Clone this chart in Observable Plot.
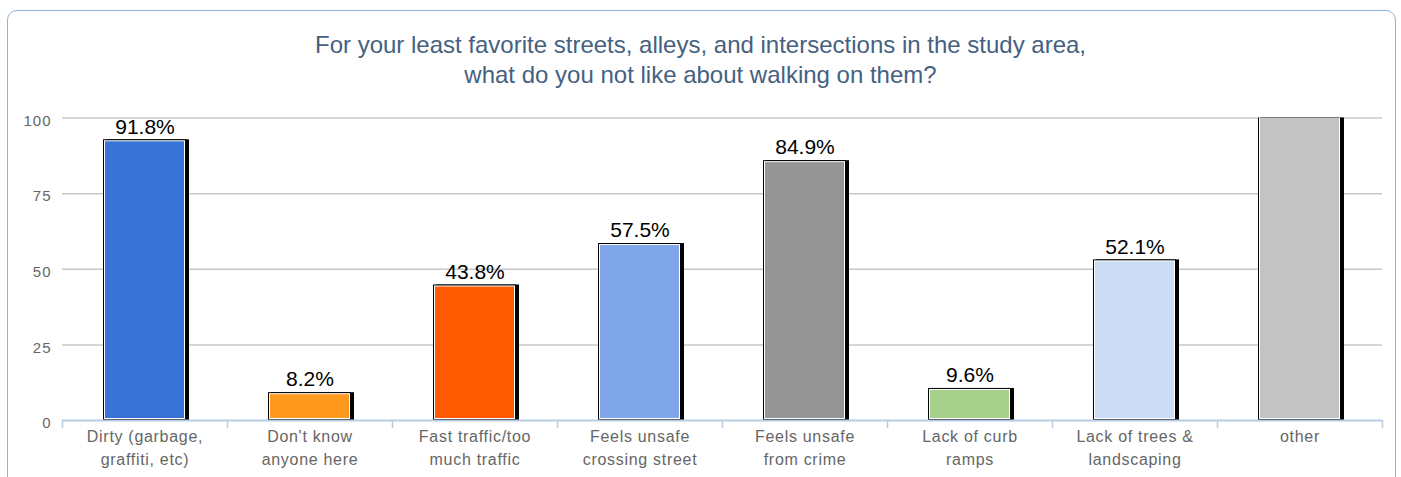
<!DOCTYPE html>
<html>
<head>
<meta charset="utf-8">
<script src="https://cdn.jsdelivr.net/npm/d3@7"></script>
<script src="https://cdn.jsdelivr.net/npm/@observablehq/plot@0.6"></script>
<style>
  body { margin: 0; background: #fff; }
  #wrap { position: relative; width: 1401px; height: 477px; overflow: hidden; font-family: "Liberation Sans", Arial, sans-serif; }
  #card { position: absolute; left: 7px; top: 10px; width: 1389px; height: 520px; border: 1.5px solid #93b2d9; border-radius: 10px; box-sizing: border-box; }
  #title { position: absolute; left: 0; top: 30px; width: 1401px; text-align: center; font-size: 24px; line-height: 30px; color: #45617f; }
  #chart { position: absolute; left: 0; top: 100px; }
  #chart g[aria-label="x-axis tick label"] text { letter-spacing: 0.7px; }
  #chart g[aria-label="y-axis tick label"] text { letter-spacing: 1px; }
</style>
</head>
<body>
<div id="wrap">
  <div id="card"></div>
  <div id="title">For your least favorite streets, alleys, and intersections in the study area,<br>what do you not like about walking on them?</div>
  <div id="chart"></div>
</div>
<script>
const categories = ["Dirty", "Don't know", "Fast traffic", "Unsafe crossing", "Unsafe crime", "Curb ramps", "Trees", "other"];
const tickLabels = ["Dirty (garbage,\ngraffiti, etc)", "Don't know\nanyone here", "Fast traffic/too\nmuch traffic", "Feels unsafe\ncrossing street", "Feels unsafe\nfrom crime", "Lack of curb\nramps", "Lack of trees &\nlandscaping", "other"];
const values = [91.8, 8.2, 43.8, 57.5, 84.9, 9.6, 52.1, 106];
const valueLabels = ["91.8%", "8.2%", "43.8%", "57.5%", "84.9%", "9.6%", "52.1%", ""];
const colors = ["#3874d8", "#ff9a1e", "#ff5a00", "#7ea6e8", "#959595", "#a8d08d", "#ccdcf5", "#c3c3c4"];
const yTicks = [0, 25, 50, 75, 100];

const data = categories.map((c, i) => ({cat: c, value: values[i], label: valueLabels[i], color: colors[i]}));

const W = 1401, H = 377, mL = 62, mR = 19, mT = 17.5, mB = 57;
const step = (W - mL - mR) / categories.length;
const axisBlue = "#b8cce4";

const chart = Plot.plot({
  width: W,
  height: H,
  marginLeft: mL,
  marginRight: mR,
  marginTop: mT,
  marginBottom: mB,
  style: {fontFamily: '"Liberation Sans", Arial, sans-serif', background: "transparent", overflow: "visible"},
  x: {domain: categories, paddingInner: 0.5, paddingOuter: 0.25, label: null},
  y: {domain: [0, 100], label: null},
  color: {type: "identity"},
  marks: [
    Plot.ruleY(yTicks.filter(t => t > 0), {stroke: "#c8c8c8", strokeWidth: 1.5}),
    Plot.axisY({ticks: yTicks, tickSize: 0, tickPadding: 11, dy: 3, fontSize: 15, fill: "#666", label: null}),
    Plot.axisX({tickSize: 0, tickPadding: 6, fontSize: 16, fill: "#666", lineHeight: 1.4, label: null,
      tickFormat: (d) => tickLabels[categories.indexOf(d)]}),
    // shadow
    Plot.barY(data, {x: "cat", y: "value", fill: "black", dx: 3, insetTop: -3, clip: true}),
    // outer black border
    Plot.barY(data, {x: "cat", y: "value", fill: "black", insetTop: -3, clip: true}),
    // coloured fill with white inner line
    Plot.barY(data, {x: "cat", y: "value", fill: "color", stroke: "white", strokeWidth: 1,
      insetTop: -1.5, insetLeft: 1.5, insetRight: 1.5, insetBottom: 1.5, clip: true}),
    // baseline axis
    Plot.ruleY([0], {stroke: axisBlue, strokeWidth: 2}),
    // category boundary ticks
    Plot.ruleX(categories, {x: d => d, dx: -step / 2, y1: 0, y2: 0, insetBottom: -8, stroke: axisBlue, strokeWidth: 1.5}),
    Plot.ruleX(categories.slice(-1), {x: d => d, dx: step / 2, y1: 0, y2: 0, insetBottom: -8, stroke: axisBlue, strokeWidth: 1.5}),
    // value labels
    Plot.text(data, {x: "cat", y: "value", text: "label", dy: -16, fontSize: 21, fill: "black", clip: true})
  ]
});
document.getElementById("chart").appendChild(chart);
</script>
</body>
</html>
